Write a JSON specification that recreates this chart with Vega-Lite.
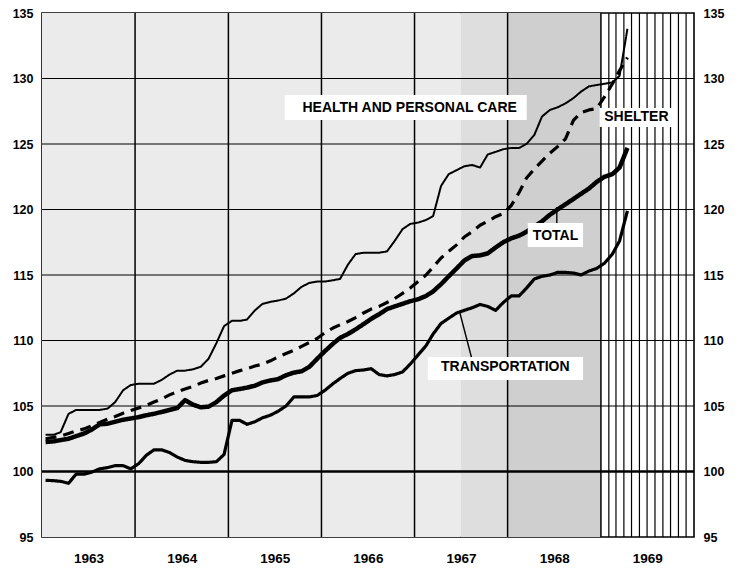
{
  "$schema": "https://vega.github.io/schema/vega-lite/v6.json",
  "width": 652,
  "height": 524,
  "autosize": {"type": "none"},
  "padding": {"left": 42, "top": 13, "right": 45, "bottom": 32},
  "background": "white",
  "config": {
    "view": {"stroke": "black", "strokeWidth": 1.6},
    "font": "Liberation Sans"
  },
  "datasets": {
    "cpi": [
      {"date": "1963-01-15", "total": 102.25, "health": 102.8, "shelter": 102.5, "transportation": 99.33},
      {"date": "1963-02-15", "total": 102.3, "health": 102.8, "shelter": 102.6, "transportation": 99.3},
      {"date": "1963-03-15", "total": 102.4, "health": 103.0, "shelter": 102.7, "transportation": 99.25},
      {"date": "1963-04-15", "total": 102.5, "health": 104.4, "shelter": 102.9, "transportation": 99.1},
      {"date": "1963-05-15", "total": 102.7, "health": 104.7, "shelter": 103.1, "transportation": 99.8},
      {"date": "1963-06-15", "total": 102.9, "health": 104.7, "shelter": 103.25, "transportation": 99.8},
      {"date": "1963-07-15", "total": 103.2, "health": 104.7, "shelter": 103.5, "transportation": 99.95},
      {"date": "1963-08-15", "total": 103.6, "health": 104.7, "shelter": 103.75, "transportation": 100.2},
      {"date": "1963-09-15", "total": 103.65, "health": 104.8, "shelter": 104.0, "transportation": 100.3},
      {"date": "1963-10-15", "total": 103.8, "health": 105.3, "shelter": 104.2, "transportation": 100.45},
      {"date": "1963-11-15", "total": 103.95, "health": 106.2, "shelter": 104.45, "transportation": 100.45},
      {"date": "1963-12-15", "total": 104.05, "health": 106.6, "shelter": 104.65, "transportation": 100.2},
      {"date": "1964-01-15", "total": 104.15, "health": 106.7, "shelter": 104.85, "transportation": 100.6},
      {"date": "1964-02-15", "total": 104.3, "health": 106.7, "shelter": 105.05, "transportation": 101.25},
      {"date": "1964-03-15", "total": 104.4, "health": 106.7, "shelter": 105.3, "transportation": 101.65},
      {"date": "1964-04-15", "total": 104.55, "health": 107.0, "shelter": 105.55, "transportation": 101.65},
      {"date": "1964-05-15", "total": 104.7, "health": 107.4, "shelter": 105.85, "transportation": 101.45},
      {"date": "1964-06-15", "total": 104.85, "health": 107.7, "shelter": 106.1, "transportation": 101.1},
      {"date": "1964-07-15", "total": 105.45, "health": 107.7, "shelter": 106.3, "transportation": 100.85},
      {"date": "1964-08-15", "total": 105.1, "health": 107.8, "shelter": 106.5, "transportation": 100.75},
      {"date": "1964-09-15", "total": 104.9, "health": 108.0, "shelter": 106.75, "transportation": 100.7},
      {"date": "1964-10-15", "total": 104.95, "health": 108.6, "shelter": 106.95, "transportation": 100.7},
      {"date": "1964-11-15", "total": 105.3, "health": 109.8, "shelter": 107.1, "transportation": 100.75},
      {"date": "1964-12-15", "total": 105.8, "health": 111.1, "shelter": 107.3, "transportation": 101.3},
      {"date": "1965-01-15", "total": 106.2, "health": 111.5, "shelter": 107.5, "transportation": 103.9},
      {"date": "1965-02-15", "total": 106.3, "health": 111.5, "shelter": 107.7, "transportation": 103.9},
      {"date": "1965-03-15", "total": 106.4, "health": 111.6, "shelter": 107.85, "transportation": 103.6},
      {"date": "1965-04-15", "total": 106.55, "health": 112.3, "shelter": 108.05, "transportation": 103.8},
      {"date": "1965-05-15", "total": 106.8, "health": 112.8, "shelter": 108.2, "transportation": 104.1},
      {"date": "1965-06-15", "total": 106.95, "health": 112.95, "shelter": 108.45, "transportation": 104.3},
      {"date": "1965-07-15", "total": 107.05, "health": 113.05, "shelter": 108.75, "transportation": 104.6},
      {"date": "1965-08-15", "total": 107.35, "health": 113.2, "shelter": 109.0, "transportation": 105.0},
      {"date": "1965-09-15", "total": 107.55, "health": 113.6, "shelter": 109.25, "transportation": 105.7},
      {"date": "1965-10-15", "total": 107.65, "health": 114.1, "shelter": 109.55, "transportation": 105.7},
      {"date": "1965-11-15", "total": 108.0, "health": 114.4, "shelter": 109.85, "transportation": 105.7},
      {"date": "1965-12-15", "total": 108.6, "health": 114.5, "shelter": 110.15, "transportation": 105.8},
      {"date": "1966-01-15", "total": 109.2, "health": 114.5, "shelter": 110.6, "transportation": 106.2},
      {"date": "1966-02-15", "total": 109.75, "health": 114.6, "shelter": 110.95, "transportation": 106.7},
      {"date": "1966-03-15", "total": 110.2, "health": 114.7, "shelter": 111.2, "transportation": 107.1},
      {"date": "1966-04-15", "total": 110.5, "health": 115.8, "shelter": 111.45, "transportation": 107.5},
      {"date": "1966-05-15", "total": 110.85, "health": 116.6, "shelter": 111.75, "transportation": 107.7},
      {"date": "1966-06-15", "total": 111.25, "health": 116.7, "shelter": 112.1, "transportation": 107.75},
      {"date": "1966-07-15", "total": 111.65, "health": 116.7, "shelter": 112.4, "transportation": 107.85},
      {"date": "1966-08-15", "total": 112.0, "health": 116.7, "shelter": 112.6, "transportation": 107.4},
      {"date": "1966-09-15", "total": 112.4, "health": 116.8, "shelter": 112.9, "transportation": 107.3},
      {"date": "1966-10-15", "total": 112.6, "health": 117.6, "shelter": 113.2, "transportation": 107.4},
      {"date": "1966-11-15", "total": 112.8, "health": 118.5, "shelter": 113.6, "transportation": 107.6},
      {"date": "1966-12-15", "total": 113.0, "health": 118.9, "shelter": 114.0, "transportation": 108.2},
      {"date": "1967-01-15", "total": 113.15, "health": 119.0, "shelter": 114.5, "transportation": 108.9},
      {"date": "1967-02-15", "total": 113.4, "health": 119.2, "shelter": 115.0, "transportation": 109.6},
      {"date": "1967-03-15", "total": 113.75, "health": 119.5, "shelter": 115.6, "transportation": 110.5},
      {"date": "1967-04-15", "total": 114.3, "health": 121.8, "shelter": 116.3, "transportation": 111.3},
      {"date": "1967-05-15", "total": 114.9, "health": 122.7, "shelter": 116.8, "transportation": 111.7},
      {"date": "1967-06-15", "total": 115.5, "health": 123.0, "shelter": 117.3, "transportation": 112.1},
      {"date": "1967-07-15", "total": 116.1, "health": 123.3, "shelter": 117.9, "transportation": 112.3},
      {"date": "1967-08-15", "total": 116.45, "health": 123.4, "shelter": 118.3, "transportation": 112.5},
      {"date": "1967-09-15", "total": 116.5, "health": 123.2, "shelter": 118.8, "transportation": 112.75},
      {"date": "1967-10-15", "total": 116.65, "health": 124.2, "shelter": 119.1, "transportation": 112.6},
      {"date": "1967-11-15", "total": 117.1, "health": 124.4, "shelter": 119.45, "transportation": 112.3},
      {"date": "1967-12-15", "total": 117.5, "health": 124.6, "shelter": 119.7, "transportation": 112.9},
      {"date": "1968-01-15", "total": 117.8, "health": 124.7, "shelter": 120.3, "transportation": 113.4},
      {"date": "1968-02-15", "total": 118.0, "health": 124.7, "shelter": 121.3, "transportation": 113.4},
      {"date": "1968-03-15", "total": 118.3, "health": 125.0, "shelter": 122.4, "transportation": 114.0},
      {"date": "1968-04-15", "total": 118.7, "health": 125.7, "shelter": 123.1, "transportation": 114.7},
      {"date": "1968-05-15", "total": 119.1, "health": 127.1, "shelter": 123.7, "transportation": 114.9},
      {"date": "1968-06-15", "total": 119.6, "health": 127.6, "shelter": 124.3, "transportation": 115.0},
      {"date": "1968-07-15", "total": 120.0, "health": 127.8, "shelter": 124.8, "transportation": 115.2},
      {"date": "1968-08-15", "total": 120.4, "health": 128.1, "shelter": 125.4, "transportation": 115.2},
      {"date": "1968-09-15", "total": 120.8, "health": 128.5, "shelter": 126.8, "transportation": 115.15},
      {"date": "1968-10-15", "total": 121.2, "health": 129.0, "shelter": 127.4, "transportation": 115.0},
      {"date": "1968-11-15", "total": 121.6, "health": 129.4, "shelter": 127.6, "transportation": 115.3},
      {"date": "1968-12-15", "total": 122.1, "health": 129.5, "shelter": 127.7, "transportation": 115.5},
      {"date": "1969-01-15", "total": 122.5, "health": 129.6, "shelter": 128.6, "transportation": 115.9},
      {"date": "1969-02-15", "total": 122.7, "health": 129.7, "shelter": 129.6, "transportation": 116.6},
      {"date": "1969-03-15", "total": 123.2, "health": 130.2, "shelter": 130.6, "transportation": 117.6},
      {"date": "1969-04-15", "total": 124.7, "health": 133.8, "shelter": 131.6, "transportation": 119.9}
    ],
    "bands": [
      {"start": "1963-01-01", "end": "1967-07-01", "period": "light"},
      {"start": "1967-07-01", "end": "1968-01-01", "period": "mid"},
      {"start": "1968-01-01", "end": "1969-01-01", "period": "dark"}
    ],
    "hgrid": [
      {"v": 100, "kind": "base"},
      {"v": 105, "kind": "major"},
      {"v": 110, "kind": "major"},
      {"v": 115, "kind": "major"},
      {"v": 120, "kind": "major"},
      {"v": 125, "kind": "major"},
      {"v": 130, "kind": "major"}
    ],
    "vgrid": [
      {"date": "1964-01-01", "kind": "year"},
      {"date": "1965-01-01", "kind": "year"},
      {"date": "1966-01-01", "kind": "year"},
      {"date": "1967-01-01", "kind": "year"},
      {"date": "1968-01-01", "kind": "year"},
      {"date": "1969-01-01", "kind": "year"},
      {"date": "1969-02-01", "kind": "month"},
      {"date": "1969-03-01", "kind": "month"},
      {"date": "1969-04-01", "kind": "month"},
      {"date": "1969-05-01", "kind": "month"},
      {"date": "1969-06-01", "kind": "month"},
      {"date": "1969-07-01", "kind": "month"},
      {"date": "1969-08-01", "kind": "month"},
      {"date": "1969-09-01", "kind": "month"},
      {"date": "1969-10-01", "kind": "month"},
      {"date": "1969-11-01", "kind": "month"},
      {"date": "1969-12-01", "kind": "month"}
    ],
    "labels": [
      {"label": "HEALTH AND PERSONAL CARE", "date": "1966-12-13", "value": 127.75, "x1": "1965-08-10", "x2": "1968-03-16", "y1": 128.74, "y2": 126.83},
      {"label": "SHELTER", "date": "1969-05-20", "value": 127.06, "x1": "1968-12-27", "x2": "1969-10-10", "y1": 127.75, "y2": 126.3},
      {"label": "TOTAL", "date": "1968-07-07", "value": 117.94, "x1": "1968-03-20", "x2": "1968-10-23", "y1": 118.97, "y2": 117.14},
      {"label": "TRANSPORTATION", "date": "1967-12-23", "value": 108.0, "x1": "1967-02-22", "x2": "1968-10-23", "y1": 108.74, "y2": 106.98}
    ],
    "leaders": [
      {"x1": "1968-07-12", "x2": "1968-07-12", "y1": 120.2, "y2": 118.97},
      {"x1": "1967-06-28", "x2": "1967-08-12", "y1": 112.1, "y2": 108.74}
    ]
  },
  "layer": [
    {
      "data": {"name": "bands"},
      "mark": {"type": "rect"},
      "encoding": {
        "x": {"field": "start", "type": "temporal", "scale": {"type": "utc", "domain": [{"year": 1963, "month": 1, "date": 1, "utc": true}, {"year": 1970, "month": 1, "date": 1, "utc": true}]}, "axis": null},
        "x2": {"field": "end"},
        "color": {"field": "period", "type": "nominal", "scale": {"domain": ["light", "mid", "dark"], "range": ["#ebebeb", "#dedede", "#cfcfcf"]}, "legend": null}
      }
    },
    {
      "data": {"name": "hgrid"},
      "mark": {"type": "rule", "color": "black"},
      "encoding": {
        "y": {"field": "v", "type": "quantitative", "scale": {"domain": [95, 135], "nice": false, "zero": false},
          "axis": {"orient": "right", "values": [95, 100, 105, 110, 115, 120, 125, 130, 135], "title": null, "grid": false, "ticks": false, "domain": false,
            "labelFont": "Liberation Sans", "labelFontWeight": "bold", "labelFontSize": 12.5, "labelColor": "black",
            "labelPadding": 9, "labelFlush": false, "labelOverlap": false, "labelBound": false}},
        "size": {"field": "kind", "type": "nominal", "scale": {"type": "ordinal", "domain": ["major", "base"], "range": [1.2, 2.6]}, "legend": null}
      }
    },
    {
      "data": {"name": "vgrid"},
      "mark": {"type": "rule", "color": "black"},
      "encoding": {
        "x": {"field": "date", "type": "temporal", "axis": null},
        "size": {"field": "kind", "type": "nominal", "scale": {"type": "ordinal", "domain": ["month", "year"], "range": [1.2, 1.5]}, "legend": null}
      }
    },
    {
      "data": {"name": "cpi"},
      "transform": [{"fold": ["total", "health", "shelter", "transportation"], "as": ["series", "value"]}],
      "mark": {"type": "line", "color": "black", "strokeJoin": "round"},
      "encoding": {
        "x": {"field": "date", "type": "temporal",
          "axis": {"orient": "bottom", "values": [
            {"year": 1963, "month": 7, "date": 2, "utc": true},
            {"year": 1964, "month": 7, "date": 2, "utc": true},
            {"year": 1965, "month": 7, "date": 2, "utc": true},
            {"year": 1966, "month": 7, "date": 2, "utc": true},
            {"year": 1967, "month": 7, "date": 2, "utc": true},
            {"year": 1968, "month": 7, "date": 2, "utc": true},
            {"year": 1969, "month": 7, "date": 2, "utc": true}],
            "format": "%Y", "title": null, "grid": false, "ticks": false, "domain": false,
            "labelFont": "Liberation Sans", "labelFontWeight": "bold", "labelFontSize": 13.5, "labelColor": "black",
            "labelPadding": 14, "labelFlush": false, "labelOverlap": false, "labelBound": false}},
        "y": {"field": "value", "type": "quantitative",
          "axis": {"orient": "left", "values": [95, 100, 105, 110, 115, 120, 125, 130, 135], "title": null, "grid": false, "ticks": false, "domain": false,
            "labelFont": "Liberation Sans", "labelFontWeight": "bold", "labelFontSize": 12.5, "labelColor": "black",
            "labelPadding": 9, "labelFlush": false, "labelOverlap": false, "labelBound": false}},
        "detail": {"field": "series", "type": "nominal"},
        "size": {"field": "series", "type": "nominal", "scale": {"type": "ordinal", "domain": ["total", "health", "shelter", "transportation"], "range": [4.5, 2, 3.2, 3.2]}, "legend": null},
        "strokeDash": {"field": "series", "type": "nominal", "scale": {"domain": ["total", "health", "shelter", "transportation"], "range": [[1, 0], [1, 0], [11, 7], [1, 0]]}, "legend": null}
      }
    },
    {
      "data": {"name": "labels"},
      "mark": {"type": "rect", "fill": "white"},
      "encoding": {
        "x": {"field": "x1", "type": "temporal", "axis": null},
        "x2": {"field": "x2"},
        "y": {"field": "y1", "type": "quantitative", "axis": null},
        "y2": {"field": "y2"}
      }
    },
    {
      "data": {"name": "leaders"},
      "mark": {"type": "rule", "color": "black", "strokeWidth": 1.4},
      "encoding": {
        "x": {"field": "x1", "type": "temporal", "axis": null},
        "x2": {"field": "x2"},
        "y": {"field": "y1", "type": "quantitative", "axis": null},
        "y2": {"field": "y2"}
      }
    },
    {
      "data": {"name": "labels"},
      "mark": {"type": "text", "font": "Liberation Sans", "fontWeight": "bold", "fontSize": 14, "color": "black", "align": "center", "baseline": "middle"},
      "encoding": {
        "x": {"field": "date", "type": "temporal", "axis": null},
        "y": {"field": "value", "type": "quantitative", "axis": null},
        "text": {"field": "label", "type": "nominal"}
      }
    }
  ],
  "resolve": {"axis": {"x": "independent", "y": "independent"}, "scale": {"size": "independent"}}
}
